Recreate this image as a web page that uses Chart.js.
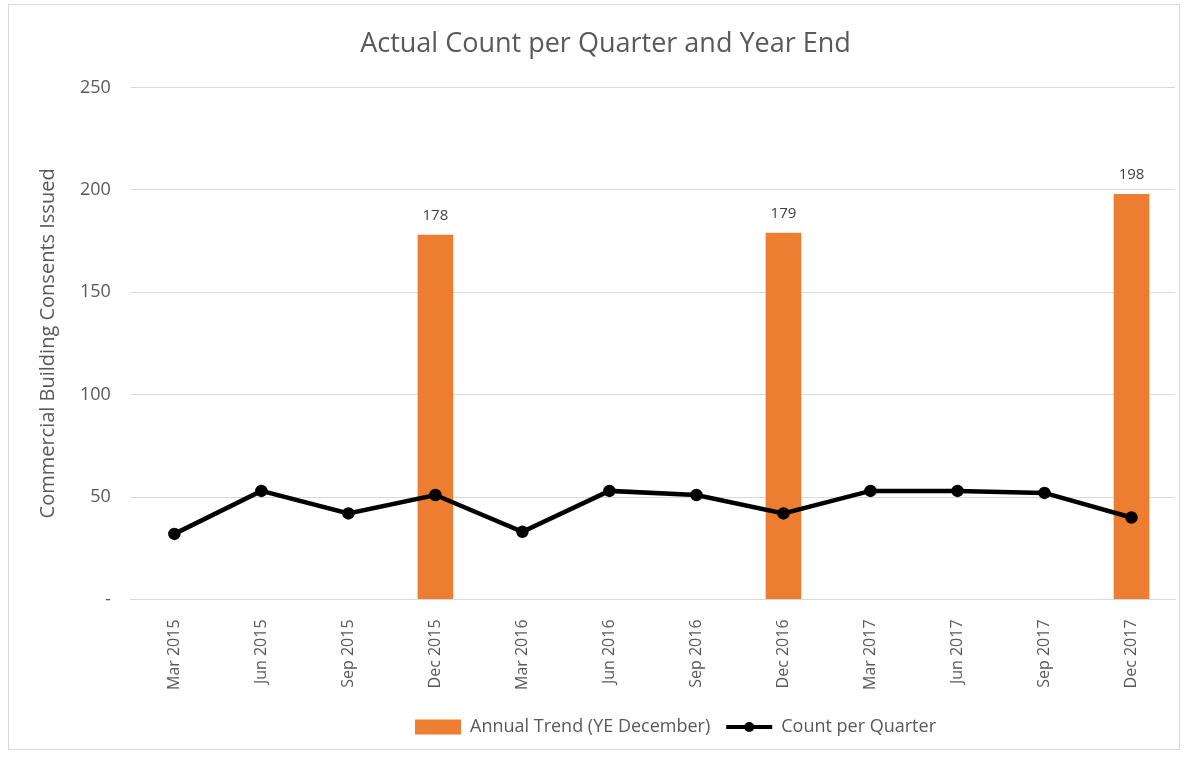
<!DOCTYPE html>
<html>
<head>
<meta charset="utf-8">
<script src="https://cdn.jsdelivr.net/npm/chart.js@4.4.0/dist/chart.umd.min.js"></script>
<style>
  body { margin: 0; background: #fff; }
  #frame { position: absolute; left: 8px; top: 4px; width: 1172px; height: 746px; border: 1px solid #d9d9d9; box-sizing: border-box; }
  #wrap { position: absolute; left: 0; top: 0; width: 1189px; height: 758px; }
</style>
</head>
<body>
<div id="frame"></div>
<div id="wrap"><canvas id="myChart"></canvas></div>
<script>
var quarters = ['Mar 2015', 'Jun 2015', 'Sep 2015', 'Dec 2015', 'Mar 2016', 'Jun 2016',
                'Sep 2016', 'Dec 2016', 'Mar 2017', 'Jun 2017', 'Sep 2017', 'Dec 2017'];
var annualTrend = [null, null, null, 178, null, null, null, 179, null, null, null, 198];
var countPerQuarter = [32, 53, 42, 51, 33, 53, 51, 42, 53, 53, 52, 40];

var fontFam = "'Open Sans', 'DejaVu Sans', sans-serif";
var grey = '#595959';

// numbers above the orange bars
var barLabels = {
    id: 'barLabels',
    afterDatasetsDraw: function(chart) {
        var c = chart.ctx;
        var meta = chart.getDatasetMeta(0);
        c.save();
        c.font = '15px ' + fontFam;
        c.fillStyle = '#404040';
        c.textAlign = 'center';
        c.textBaseline = 'bottom';
        meta.data.forEach(function(el, i) {
            if (annualTrend[i] == null) return;
            c.fillText(annualTrend[i], el.x, el.y - 12);
        });
        c.restore();
    }
};

// legend sits a bit right of centre in the original
var legendShift = {
    id: 'legendShift',
    afterLayout: function(chart) {
        if (!chart.legend) return;
        chart.legend.left += 70;
        chart.legend.right += 70;
    },
    afterDraw: function(chart) {
        // dot in the middle of the line legend marker
        var lg = chart.legend;
        if (!lg || !lg.legendHitBoxes || !lg.legendHitBoxes[1]) return;
        var hb = lg.legendHitBoxes[1];
        var c = chart.ctx;
        c.save();
        c.fillStyle = '#000';
        c.beginPath();
        c.arc(hb.left + 23, hb.top + hb.height / 2, 5, 0, Math.PI * 2);
        c.fill();
        c.restore();
    }
};

var ctx = document.getElementById('myChart').getContext('2d');
var myChart = new Chart(ctx, {
    type: 'bar',
    data: {
        labels: quarters,
        datasets: [{
            type: 'bar',
            label: 'Annual Trend (YE December)',
            data: annualTrend,
            backgroundColor: '#ed7d31',
            barPercentage: 0.41,
            categoryPercentage: 1,
            order: 2
        }, {
            type: 'line',
            label: 'Count per Quarter',
            data: countPerQuarter,
            borderColor: '#000',
            backgroundColor: '#000',
            borderWidth: 4.5,
            pointRadius: 4,
            pointHoverRadius: 4,
            tension: 0,
            order: 1
        }]
    },
    options: {
        maintainAspectRatio: false,
        responsive: true,
        animation: false,
        layout: { padding: { left: 36, right: 14, top: 28, bottom: 12 } },
        plugins: {
            title: {
                display: true,
                text: 'Actual Count per Quarter and Year End',
                color: grey,
                font: { family: fontFam, size: 27, weight: 'normal' },
                padding: { top: 0, bottom: 27 }
            },
            legend: {
                position: 'bottom',
                labels: {
                    color: grey,
                    font: { family: fontFam, size: 18 },
                    usePointStyle: true,
                    pointStyleWidth: 46,
                    boxHeight: 15,
                    padding: 16,
                    generateLabels: function(chart) {
                        return [{
                            text: 'Annual Trend (YE December)',
                            fillStyle: '#ed7d31', strokeStyle: '#ed7d31', lineWidth: 0,
                            pointStyle: 'rect', datasetIndex: 0, fontColor: grey
                        }, {
                            text: 'Count per Quarter',
                            fillStyle: '#000', strokeStyle: '#000', lineWidth: 4,
                            pointStyle: 'line', datasetIndex: 1, fontColor: grey
                        }];
                    }
                }
            },
            tooltip: { enabled: false }
        },
        scales: {
            x: {
                grid: { display: false },
                border: { color: '#d9d9d9' },
                ticks: {
                    color: grey,
                    font: { family: fontFam, size: 16 },
                    maxRotation: 90, minRotation: 90,
                    padding: 12
                }
            },
            y: {
                min: 0, max: 250,
                grid: { color: '#d9d9d9', drawTicks: false },
                border: { display: false },
                ticks: {
                    stepSize: 50,
                    color: grey,
                    font: { family: fontFam, size: 18 },
                    padding: 20,
                    callback: function(v) { return v === 0 ? '-' : v; }
                },
                title: {
                    display: true,
                    text: 'Commercial Building Consents Issued',
                    color: grey,
                    font: { family: fontFam, size: 20 },
                    padding: { top: 0, bottom: 0 }
                }
            }
        }
    },
    plugins: [barLabels, legendShift]
});
</script>
</body>
</html>
